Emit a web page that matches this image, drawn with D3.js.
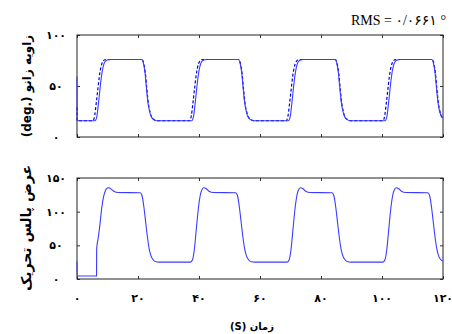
<!DOCTYPE html>
<html>
<head>
<meta charset="utf-8">
<script src="https://cdn.jsdelivr.net/npm/d3@7"></script>
<style>
  body { margin: 0; background: #fff; }
  svg { display: block; }
</style>
</head>
<body>
<svg id="chart" width="452" height="334"></svg>
<script>
// time ticks (s) and their Persian labels
const xTicks = [0, 20, 40, 60, 80, 100, 120];
const xTickLabels = ['۰', '۲۰', '۴۰', '۶۰', '۸۰', '۱۰۰', '۱۲۰'];
const angleTicks = [0, 50, 100];
const angleTickLabels = ['۰', '۵۰', '۱۰۰'];
const pulseTicks = [0, 50, 100, 150];
const pulseTickLabels = ['۰', '۵۰', '۱۰۰', '۱۵۰'];

// knee angle, measured (solid) [t, deg]
const angleActual = [
  [0, 59], [0.05, 16], [5.9, 16], [6.5, 20], [7.0, 32], [7.5, 46], [8.0, 59], [8.5, 68], [9.1, 73.5], [9.9, 75.5], [11, 76],
  [21.2, 76], [21.8, 72], [22.3, 63], [22.8, 47], [23.3, 33], [23.8, 25], [24.4, 19.5], [25.2, 17], [26.1, 16],
  [37.6, 16], [38.2, 20], [38.7, 32], [39.2, 46], [39.7, 59], [40.2, 68], [40.8, 73.5], [41.6, 75.5], [42.7, 76],
  [52.9, 76], [53.5, 72], [54.0, 63], [54.5, 47], [55.0, 33], [55.5, 25], [56.1, 19.5], [56.9, 17], [57.8, 16],
  [69.3, 16], [69.9, 20], [70.4, 32], [70.9, 46], [71.4, 59], [71.9, 68], [72.5, 73.5], [73.3, 75.5], [74.4, 76],
  [84.6, 76], [85.2, 72], [85.7, 63], [86.2, 47], [86.7, 33], [87.2, 25], [87.8, 19.5], [88.6, 17], [89.5, 16],
  [101.0, 16], [101.6, 20], [102.1, 32], [102.6, 46], [103.1, 59], [103.6, 68], [104.2, 73.5], [105.0, 75.5], [106.1, 76],
  [116.3, 76], [116.9, 72], [117.4, 63], [117.9, 47], [118.4, 33], [118.9, 25], [119.5, 20.5], [120, 18.5]
];

// knee angle, reference (dashed) [t, deg]
const angleRef = [
  [0, 29], [0.05, 16], [5.2, 16], [5.8, 21], [6.3, 33], [6.8, 46], [7.3, 59], [7.8, 68], [8.4, 73.5], [9.3, 76], [10.5, 76],
  [21.3, 76], [21.9, 72], [22.4, 63], [22.9, 47], [23.4, 33], [23.9, 25], [24.5, 19.5], [25.3, 17], [26.2, 16],
  [36.9, 16], [37.5, 21], [38.0, 33], [38.5, 46], [39.0, 59], [39.5, 68], [40.1, 73.5], [41.0, 76], [42.2, 76],
  [53.0, 76], [53.6, 72], [54.1, 63], [54.6, 47], [55.1, 33], [55.6, 25], [56.2, 19.5], [57.0, 17], [57.9, 16],
  [68.6, 16], [69.2, 21], [69.7, 33], [70.2, 46], [70.7, 59], [71.2, 68], [71.8, 73.5], [72.7, 76], [73.9, 76],
  [84.7, 76], [85.3, 72], [85.8, 63], [86.3, 47], [86.8, 33], [87.3, 25], [87.9, 19.5], [88.7, 17], [89.6, 16],
  [100.3, 16], [100.9, 21], [101.4, 33], [101.9, 46], [102.4, 59], [102.9, 68], [103.5, 73.5], [104.4, 76], [105.6, 76],
  [116.4, 76], [117.0, 72], [117.5, 63], [118.0, 47], [118.5, 33], [119.0, 25], [119.6, 19.5], [120, 18]
];

// stimulation pulse width [t, value]
const pulseWidth = [
  [0, 26], [0.05, 4.5], [6.4, 4.5], [6.45, 45], [7.0, 62], [7.5, 80], [8.1, 105], [8.7, 122], [9.3, 131], [10.0, 135], [10.5, 135.5],
  [11.2, 133.5], [12.2, 130], [13.5, 128.5], [20.7, 128], [21.3, 124], [21.9, 108], [22.5, 85], [23.1, 62], [23.7, 44], [24.3, 34], [24.9, 29], [25.9, 25.5], [26.9, 25],
  [37.2, 25], [37.9, 29], [38.5, 45], [39.2, 78], [39.8, 105], [40.4, 124], [41.0, 133], [41.6, 135.5], [42.4, 134], [43.4, 130], [44.7, 128.5],
  [52.0, 128], [52.6, 124], [53.2, 108], [53.8, 85], [54.4, 62], [55.0, 44], [55.6, 34], [56.2, 29], [57.2, 25.5], [58.2, 25],
  [68.9, 25], [69.6, 29], [70.2, 45], [70.9, 78], [71.5, 105], [72.1, 124], [72.7, 133], [73.3, 135.5], [74.1, 134], [75.1, 130], [76.4, 128.5],
  [83.6, 128], [84.2, 124], [84.8, 108], [85.4, 85], [86.0, 62], [86.6, 44], [87.2, 34], [87.8, 29], [88.8, 25.5], [89.8, 25],
  [100.3, 25], [101.0, 29], [101.6, 45], [102.3, 78], [102.9, 105], [103.5, 124], [104.1, 133], [104.7, 135.5], [105.5, 134], [106.5, 130], [107.8, 128.5],
  [115.0, 128], [115.6, 124], [116.2, 108], [116.8, 85], [117.4, 62], [118.0, 44], [118.6, 34], [119.2, 29], [120, 26.5]
];

const svg = d3.select('#chart');
const left = 77, right = 443;
const tickLen = 3;
const faFont = "'DejaVu Sans', sans-serif";

const x = d3.scaleLinear().domain([0, 120]).range([left, right]);

const panels = [
  { top: 35, bottom: 137, domain: [0, 100], ticks: angleTicks, labels: angleTickLabels },
  { top: 178, bottom: 279, domain: [0, 150], ticks: pulseTicks, labels: pulseTickLabels }
];

panels.forEach((p) => {
  p.y = d3.scaleLinear().domain(p.domain).range([p.bottom, p.top]);
  const g = svg.append('g');

  // inward ticks on all four sides (box style)
  const axes = [
    [d3.axisBottom(x).tickValues(xTicks).tickSizeInner(-tickLen), p.bottom],
    [d3.axisTop(x).tickValues(xTicks).tickSizeInner(-tickLen), p.top]
  ];
  axes.forEach(([ax, ty]) => {
    const a = g.append('g').attr('transform', `translate(0,${ty})`)
      .call(ax.tickSizeOuter(0).tickFormat(''));
    a.select('.domain').remove();
    a.selectAll('line').attr('stroke', '#333');
  });
  [[d3.axisLeft(p.y), left], [d3.axisRight(p.y), right]].forEach(([ax, tx]) => {
    const a = g.append('g').attr('transform', `translate(${tx},0)`)
      .call(ax.tickValues(p.ticks).tickSizeInner(-tickLen).tickSizeOuter(0).tickFormat(''));
    a.select('.domain').remove();
    a.selectAll('line').attr('stroke', '#333');
  });

  g.append('rect')
    .attr('x', left).attr('y', p.top)
    .attr('width', right - left).attr('height', p.bottom - p.top)
    .attr('fill', 'none').attr('stroke', '#222').attr('stroke-width', 1);

  g.selectAll('text.ylab')
    .data(p.ticks)
    .enter()
    .append('text')
    .attr('class', 'ylab')
    .attr('x', 56)
    .attr('y', (d) => p.y(d) + 4)
    .attr('text-anchor', 'middle')
    .attr('font-family', faFont)
    .attr('font-weight', 'bold')
    .attr('font-size', 11)
    .text((d, i) => p.labels[i]);
});

const line = (p) => d3.line()
  .x((d) => x(d[0]))
  .y((d) => p.y(d[1]))
  .curve(d3.curveMonotoneX);

svg.append('path')
  .attr('d', line(panels[0])(angleRef))
  .attr('fill', 'none')
  .attr('stroke', '#0000dd')
  .attr('stroke-width', 1.2)
  .attr('stroke-dasharray', '3,2');

svg.append('path')
  .attr('d', line(panels[0])(angleActual))
  .attr('fill', 'none')
  .attr('stroke', '#3b3bff')
  .attr('stroke-width', 1.1);

svg.append('path')
  .attr('d', line(panels[1])(pulseWidth))
  .attr('fill', 'none')
  .attr('stroke', '#3b3bff')
  .attr('stroke-width', 1.1);

// x tick labels under bottom panel
svg.selectAll('text.xlab')
  .data(xTicks)
  .enter()
  .append('text')
  .attr('class', 'xlab')
  .attr('x', (d) => x(d))
  .attr('y', 302)
  .attr('text-anchor', 'middle')
  .attr('font-family', faFont)
  .attr('font-weight', 'bold')
  .attr('font-size', 11)
  .text((d, i) => xTickLabels[i]);

svg.append('text')
  .attr('x', 252)
  .attr('y', 330)
  .attr('text-anchor', 'middle')
  .attr('direction', 'rtl')
  .attr('font-family', faFont)
  .attr('font-weight', 'bold')
  .attr('font-size', 10)
  .text('زمان (S)');

// y axis titles
svg.append('text')
  .attr('transform', 'translate(31,86) rotate(-90)')
  .attr('text-anchor', 'middle')
  .attr('font-family', faFont)
  .attr('font-weight', 'bold')
  .attr('font-size', 12)
  .text('(deg.) زاویه زانو');

svg.append('text')
  .attr('transform', 'translate(31,228) rotate(-90)')
  .attr('text-anchor', 'middle')
  .attr('direction', 'rtl')
  .attr('font-family', faFont)
  .attr('font-weight', 'bold')
  .attr('font-size', 14)
  .text('عرض پالس تحریک');

svg.append('text')
  .attr('x', 446)
  .attr('y', 25)
  .attr('text-anchor', 'end')
  .attr('font-family', "'Liberation Serif', 'DejaVu Sans', serif")
  .attr('font-size', 14)
  .text('RMS = ۰/۰۶۶۱ °');
</script>
</body>
</html>
